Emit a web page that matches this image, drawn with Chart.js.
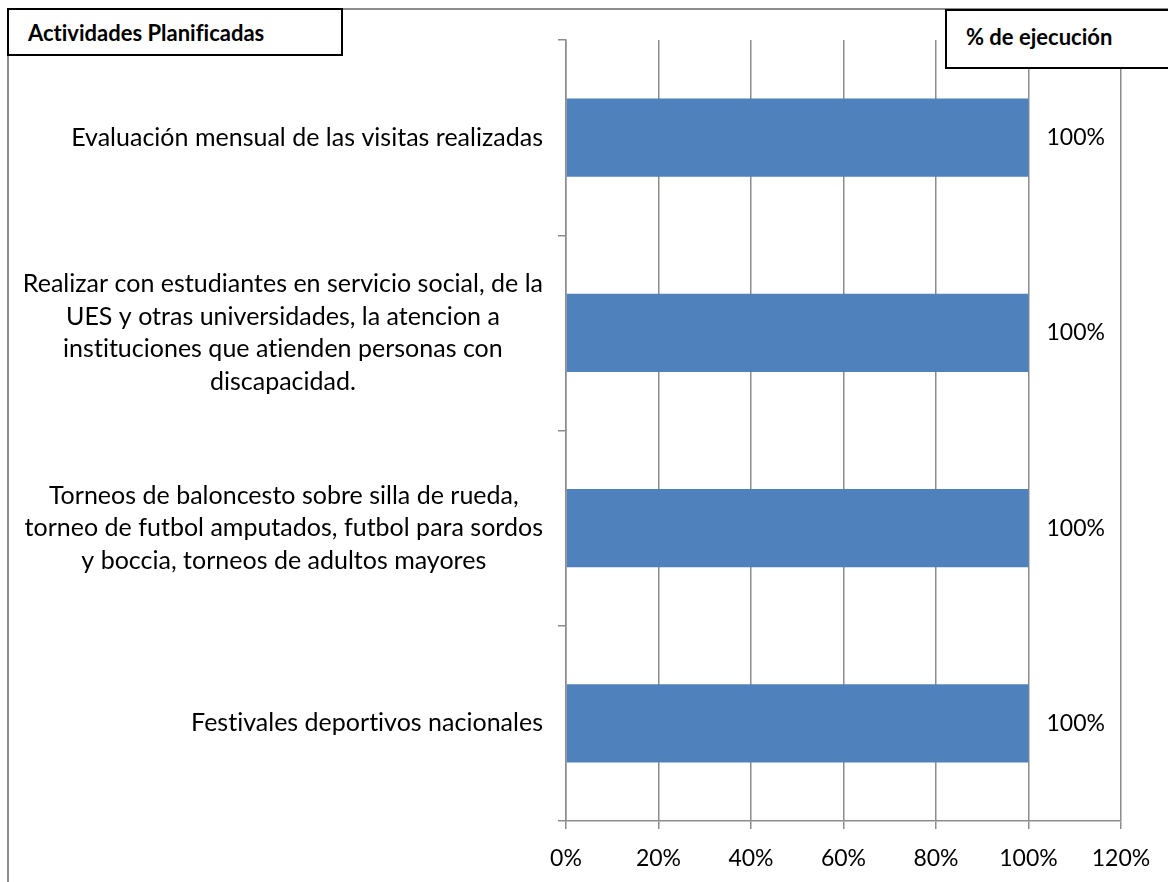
<!DOCTYPE html>
<html>
<head>
<meta charset="utf-8">
<script src="https://cdn.jsdelivr.net/npm/chart.js@4.4.1/dist/chart.umd.min.js"></script>
<style>
  html, body { margin: 0; padding: 0; background: #fff; }
  #wrap { position: relative; width: 1168px; height: 882px; overflow: hidden; }
  #frame { position: absolute; left: 7px; top: 8px; width: 1170px; height: 900px;
           border-left: 2px solid #8c8c8c; border-top: 2px solid #8c8c8c; }
  .hbox { position: absolute; background: #fff; border: 2px solid #000; box-sizing: border-box;
          font-family: Lato, "Open Sans", sans-serif; font-weight: bold; font-size: 22px; color: #000;
          font-variant-ligatures: none; display: flex; align-items: center; }
  #box1 { left: 7px; top: 8px; width: 336px; height: 48px; padding-left: 19px; }
  #box2 { left: 945px; top: 9px; width: 240px; height: 60px; padding-left: 19px; padding-bottom: 6px; }
  canvas { position: absolute; left: 0; top: 0; }
</style>
</head>
<body>
<div id="wrap">
  <canvas id="myChart" width="1168" height="882"></canvas>
  <div id="frame"></div>
  <div class="hbox" id="box1">Actividades Planificadas</div>
  <div class="hbox" id="box2">% de ejecución</div>
</div>
<script>
// categorias (lineas de cada etiqueta)
const actividades = [
    ['Evaluación mensual de las visitas realizadas'],
    ['Realizar con estudiantes en servicio social, de la', 'UES y otras universidades, la atencion a', 'instituciones que atienden personas con', 'discapacidad.'],
    ['Torneos de baloncesto sobre silla de rueda,', 'torneo de futbol amputados, futbol para sordos', 'y boccia, torneos de adultos mayores'],
    ['Festivales deportivos nacionales']
];
const ejecucion = [1, 1, 1, 1];
const ticksX = [0, 0.2, 0.4, 0.6, 0.8, 1, 1.2];

const fontFam = 'Lato, "Open Sans", sans-serif';
const gridColor = '#8c8c8c';

// etiquetas del eje y, centradas dentro de su bloque y alineadas a la derecha
const labelPlugin = {
    id: 'labelPlugin',
    afterDraw(chart) {
        const c = chart.ctx;
        const y = chart.scales.y;
        c.save();
        c.font = '25px ' + fontFam;
        c.letterSpacing = '0.01px'; // sin ligaduras "ti"
        c.fillStyle = '#000';
        c.textBaseline = 'middle';
        c.textAlign = 'center';
        const lh = 32.5;
        actividades.forEach((lines, i) => {
            const cy = y.getPixelForValue(i);
            const maxW = Math.max(...lines.map(l => c.measureText(l).width));
            const cx = y.right - 23 - maxW / 2;
            lines.forEach((l, j) => {
                c.fillText(l, cx, cy + (j - (lines.length - 1) / 2) * lh);
            });
        });
        // valores
        c.font = '23px ' + fontFam;
        c.textAlign = 'left';
        const meta = chart.getDatasetMeta(0);
        meta.data.forEach((bar, i) => {
            c.fillText(Math.round(ejecucion[i] * 100) + '%', bar.x + 18, bar.y);
        });
        c.restore();
    }
};

const ctx = document.getElementById('myChart').getContext('2d');
new Chart(ctx, {
    type: 'bar',
    data: {
        labels: actividades,
        datasets: [{
            data: ejecucion,
            backgroundColor: '#4f81bd',
            borderWidth: 0,
            barPercentage: 0.4,
            categoryPercentage: 1
        }]
    },
    options: {
        indexAxis: 'y',
        responsive: false,
        animation: false,
        layout: { padding: { top: 40, right: 47, left: 0, bottom: 0 } },
        plugins: {
            legend: { display: false },
            tooltip: { enabled: false }
        },
        scales: {
            x: {
                min: 0,
                max: 1.2,
                afterBuildTicks: s => { s.ticks = ticksX.map(v => ({ value: v })); },
                afterFit: s => { s.height = 61; },
                grid: { color: gridColor, lineWidth: 1.5, tickLength: 8 },
                border: { color: gridColor, width: 1.5 },
                ticks: {
                    color: '#000',
                    padding: 16,
                    font: { family: fontFam, size: 23 },
                    callback: v => Math.round(v * 100) + '%'
                }
            },
            y: {
                afterFit: s => { s.width = 566; },
                grid: { drawOnChartArea: false, color: gridColor, lineWidth: 1.5, tickLength: 8 },
                border: { color: gridColor, width: 1.5 },
                ticks: { color: 'transparent', font: { size: 1 } }
            }
        }
    },
    plugins: [labelPlugin]
});
</script>
</body>
</html>
